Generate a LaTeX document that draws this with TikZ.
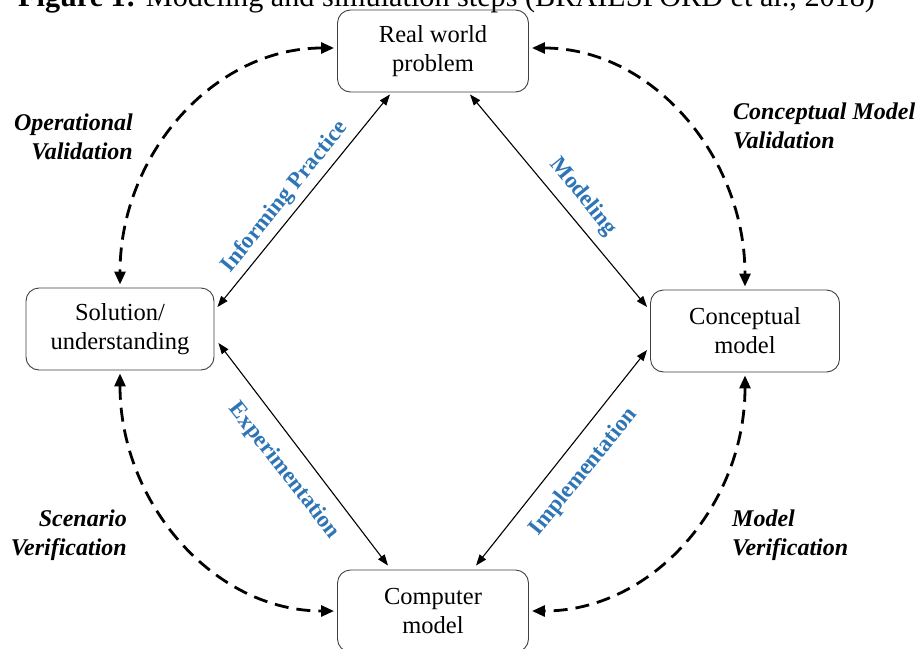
\documentclass[tikz,border=0pt]{standalone}
\usepackage{fontspec}
\setmainfont{Liberation Serif}
\usetikzlibrary{arrows.meta}
\definecolor{lblue}{RGB}{46,117,182}
\begin{document}
\begin{tikzpicture}[x=1pt,y=-1pt,
  box/.style={draw=black!75, line width=0.9pt, rounded corners=13pt, minimum width=191pt, minimum height=82pt, align=center, font=\fontsize{24.5}{29}\selectfont, inner sep=0pt},
  solidarr/.style={line width=1.1pt, {Triangle[length=11pt,width=8pt]}-{Triangle[length=11pt,width=8pt]}},
  dasharr/.style={line width=2.8pt, dash pattern=on 14pt off 8pt, {Triangle[length=13pt,width=11pt]}-{Triangle[length=13pt,width=11pt]}},
  vlabel/.style={font=\fontsize{24}{29}\selectfont\bfseries\itshape, inner sep=0pt},
  steplabel/.style={text=lblue, font=\fontsize{23}{26}\selectfont\bfseries, inner sep=0pt},
]
\clip (0,0) rectangle (917,648);
\fill[white] (0,0) rectangle (917,648);

\node[anchor=base west, inner sep=0pt, font=\fontsize{30.2}{34}\selectfont] (cap) at (18,6) {\textbf{Figure 1:} Modeling and simulation steps (BRAILSFORD et al., 2018)};

\node[box] (real) at (433,51) {Real world\\problem};
\node[box, minimum width=188pt] (sol) at (120,329) {Solution/\\understanding};
\node[box, minimum width=189pt] (conc) at (745,331) {Conceptual\\model};
\node[box] (comp) at (433,611) {Computer\\model};

% solid arrows
\draw[solidarr] ([xshift=-43pt,yshift=-2pt]real.south) -- ([xshift=3pt,yshift=22pt]sol.east);
\draw[solidarr] ([xshift=37pt,yshift=-2pt]real.south) -- ([xshift=-3pt,yshift=24pt]conc.west);
\draw[solidarr] ([xshift=4pt,yshift=-14pt]sol.east) -- ([xshift=-45pt,yshift=4pt]comp.north);
\draw[solidarr] ([xshift=43pt,yshift=4pt]comp.north) -- ([xshift=-3pt,yshift=-19pt]conc.west);

% dashed arrows
\draw[dasharr] ([xshift=-3pt,yshift=3pt]real.west) .. controls +(-120,0) and +(0,-130) .. ([yshift=3pt]sol.north);
\draw[dasharr] ([xshift=3pt,yshift=3pt]real.east) .. controls +(120,0) and +(0,-130) .. ([yshift=3pt]conc.north);
\draw[dasharr] ([yshift=-3pt]sol.south) .. controls +(0,130) and +(-120,0) .. ([xshift=-3pt]comp.west);
\draw[dasharr] ([yshift=-3pt]conc.south) .. controls +(0,130) and +(120,0) .. ([xshift=3pt]comp.east);

% verification labels
\node[vlabel, align=right, anchor=east] (opv) at (133,137) {Operational\\Validation};
\node[vlabel, align=left, anchor=west] (cmv) at (733,126) {Conceptual Model\\Validation};
\node[vlabel, align=right, anchor=east] (scv) at (127,535) {Scenario\\Verification};
\node[vlabel, align=left, anchor=west] (mv) at (732,535) {Model\\Verification};

% step labels
\node[steplabel, rotate=51] (inf) at (285,197) {Informing Practice};
\node[steplabel, rotate=-51] (mod) at (583,197) {Modeling};
\node[steplabel, rotate=-52] (exp) at (284,471) {Experimentation};
\node[steplabel, rotate=51] (imp) at (584,472) {Implementation};
\end{tikzpicture}
\end{document}
